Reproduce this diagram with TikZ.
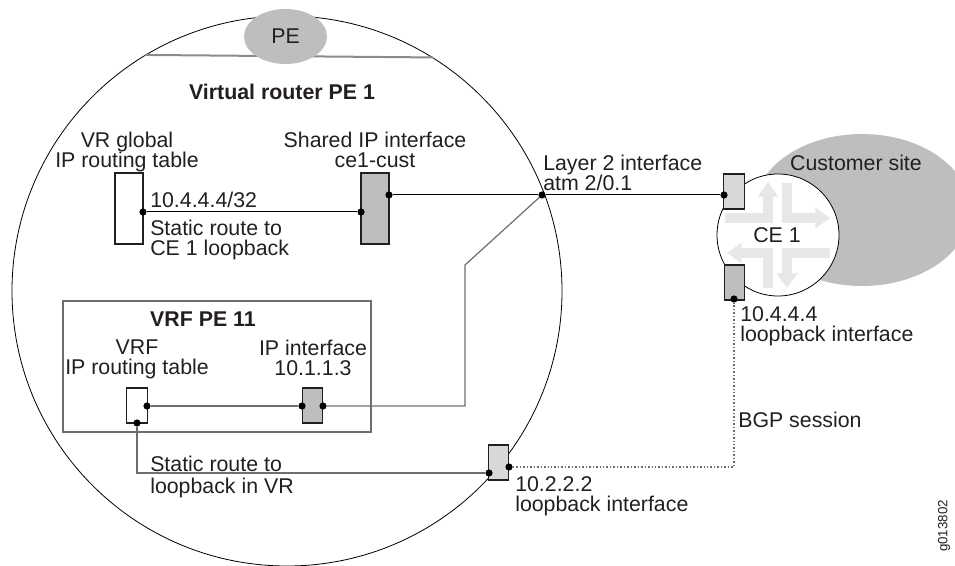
\documentclass[tikz,border=0pt]{standalone}
\usepackage{fontspec}
\setmainfont{Liberation Sans}
\usetikzlibrary{arrows.meta,shapes.geometric}
\definecolor{peInk}{HTML}{231F20}
\definecolor{peGray}{HTML}{BCBEC0}
\definecolor{peLight}{HTML}{D7D8DA}
\definecolor{peArrow}{HTML}{E6E7E8}
\definecolor{peWire}{HTML}{6D6E71}
\newcommand\peFont{\fontsize{16}{15}\selectfont\lineskiplimit=-20pt\relax}

\begin{document}
\begin{tikzpicture}[
  x=0.75pt, y=-0.75pt,
  font=\peFont, text=peInk,
  lbl/.style={inner sep=0pt,align=left},
  clbl/.style={inner sep=0pt,align=center},
  head/.style={inner sep=0pt,font=\fontsize{16}{15}\selectfont\bfseries},
  port/.style={draw=peInk,line width=0.8pt,inner sep=0pt,minimum width=15.5pt,minimum height=26.25pt},
  tallport/.style={port,minimum width=21pt,minimum height=53.25pt},
  dot/.style={circle,fill=black,inner sep=0pt,minimum size=5.4pt},
  wire/.style={line width=0.75pt,draw=black},
  gwire/.style={line width=0.9pt,draw=peWire},
  bgp/.style={line width=0.9pt,draw=peWire,dash pattern=on 1.1pt off 1.5pt},
  rarrow/.style={line width=7pt,draw=peArrow,-{Triangle[length=11pt,width=15pt]}}
]
\useasboundingbox (0,0) rectangle (955,566);

\node[circle,draw=black,line width=0.6pt,minimum size=412.5pt,inner sep=0pt] (pe) at (287,291) {};
\draw[line width=1.5pt,draw=peWire!80] (pe.121.7) -- (pe.58.3);
\node[ellipse,fill=peGray,minimum width=62.25pt,minimum height=41.25pt,inner sep=0pt] (pehead) at (285.5,36.5) {PE};
\node[head] (vrtitle) at (282,92) {Virtual router PE 1};

\node[clbl,anchor=north] (vrtxt) at (127,131.3) {VR global\\IP routing table};
\node[clbl,anchor=north] (shtxt) at (375,131.3) {Shared IP interface\\ce1-cust};
\node[tallport,fill=white] (vrtab) at (129,208.5) {};
\node[tallport,fill=peGray] (shared) at (375,208.5) {};
\node[lbl,anchor=base west] (vrroute) at (150,207.6) {10.4.4.4/32};
\node[lbl,anchor=north west] (vrnote) at (150,219.3) {Static route to\\CE 1 loopback};

\node[draw=peWire,line width=1pt,minimum width=231pt,minimum height=98.25pt,inner sep=0pt] (vrf) at (217,366.5) {};
\node[head] (vrftitle) at (203,319) {VRF PE 11};
\node[clbl,anchor=north] (vrftxt) at (137,339.3) {VRF\\IP routing table};
\node[clbl,anchor=north] (iptxt) at (313,339.3) {IP interface\\10.1.1.3};
\node[port,fill=white] (vrftab) at (137,405.5) {};
\node[port,fill=peGray] (ipif) at (312.5,405.5) {};

\node[port,fill=peLight] (vrlo) at (498.5,462.5) {};
\node[lbl,anchor=north west] (lotxt) at (515,476.3) {10.2.2.2\\loopback interface};
\node[lbl,anchor=north west] (vrfnote) at (150,455.3) {Static route to\\[1.5pt]loopback in VR};

\node[ellipse,fill=peGray,minimum width=162pt,minimum height=114pt,inner sep=0pt] (site) at (862,210) {};
\node[clbl] (sitetxt) at (856,163) {Customer site};
\node[circle,draw=black,fill=white,line width=0.6pt,minimum size=91.5pt,inner sep=0pt] (ce) at (778,235) {};
\draw[rarrow] (725,218) -| (768,182);
\draw[rarrow] (787,183) |- (830,218);
\draw[rarrow] (768,288) |- (727,253);
\draw[rarrow] (830,253) -| (787,288);
\node[clbl] (cetxt) at (777,235) {CE 1};
\node[port,fill=peLight] (ceif) at (734,191.5) {};
\node[port,fill=peGray] (celo) at (734.5,282.5) {};
\node[lbl,anchor=north west] (celotxt) at (740,306.3) {10.4.4.4\\loopback interface};
\node[lbl,anchor=north west] (l2txt) at (543,154.3) {Layer 2 interface\\atm 2/0.1};
\node[lbl,anchor=west] (bgptxt) at (738,420) {BGP session};

\node[dot] (vrtabE) at (143,212) {};
\node[dot] (sharedW) at (361,212) {};
\node[dot] (sharedE) at (389,195) {};
\node[dot] (l2) at (542,195) {};
\node[dot] (ceifW) at (724,195) {};
\node[dot] (celoS) at (734,299) {};
\node[dot] (vrftabE) at (147,406) {};
\node[dot] (vrftabS) at (137,423) {};
\node[dot] (ipifW) at (302,406) {};
\node[dot] (ipifE) at (323,406) {};
\node[dot] (vrloW) at (489,473) {};
\node[dot] (vrloE) at (509,467) {};
\coordinate (kink) at (465,265);

\draw[wire] (vrtabE) -- (sharedW);
\draw[wire] (sharedE) -- (l2) -- (ceifW);
\draw[gwire] (l2) -- (kink) |- (ipifE);
\draw[gwire] (vrftabE) -- (ipifW);
\draw[gwire] (vrftabS) |- (vrloW);
\draw[bgp] (vrloE) -| (celoS);

\node[rotate=90,font=\fontsize{10}{12}\selectfont,inner sep=0pt] (figid) at (944,526) {g013802};
\end{tikzpicture}
\end{document}
